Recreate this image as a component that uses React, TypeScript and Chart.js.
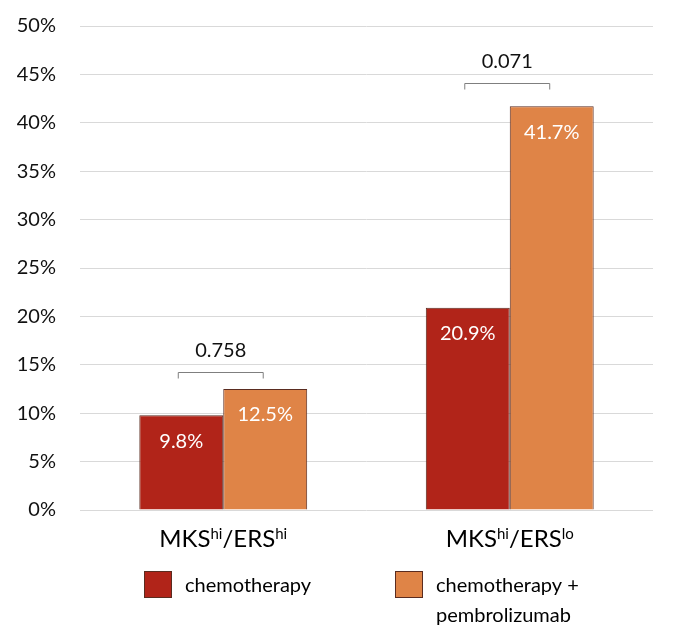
import React, { useEffect, useRef } from 'react';
import { Chart, registerables } from 'chart.js';
Chart.register(...registerables);

const categories = ['MKS^hi/ERS^hi', 'MKS^hi/ERS^lo'];
const seriesNames = ['chemotherapy', 'chemotherapy +\npembrolizumab'];
const chemo = [9.8, 20.9];
const chemoPembro = [12.5, 41.7];
const pValues = ['0.758', '0.071'];
const bracketLevels = [14.3, 44.1];
const yMin = 0;
const yMax = 50;
const yStep = 5;

const RED = '#B12419';
const ORANGE = '#DF8447';
const BORDER = '#5a2c20';
const FONT = 'Lato, "Open Sans", sans-serif';

function parseLabel(s: string) {
  const parts: { t: string; sup: boolean }[] = [];
  const re = /\^([a-z]+)/g;
  let last = 0;
  let m: RegExpExecArray | null;
  while ((m = re.exec(s))) {
    if (m.index > last) parts.push({ t: s.slice(last, m.index), sup: false });
    parts.push({ t: m[1], sup: true });
    last = m.index + m[0].length;
  }
  if (last < s.length) parts.push({ t: s.slice(last), sup: false });
  return parts;
}

const annotPlugin = {
  id: 'annot',
  afterDatasetsDraw(chart: any) {
    const ctx = chart.ctx as CanvasRenderingContext2D;
    const area = chart.chartArea;
    const yScale = chart.scales.y;
    const xScale = chart.scales.x;
    ctx.save();
    // value labels
    ctx.fillStyle = '#ffffff';
    ctx.font = `20px ${FONT}`;
    ctx.textAlign = 'center';
    ctx.textBaseline = 'middle';
    chart.data.datasets.forEach((ds: any, di: number) => {
      const meta = chart.getDatasetMeta(di);
      meta.data.forEach((el: any, i: number) => {
        ctx.fillText(ds.data[i].toFixed(1) + '%', el.x, el.y + 26);
      });
    });
    // brackets
    const m0 = chart.getDatasetMeta(0);
    const m1 = chart.getDatasetMeta(1);
    categories.forEach((_, i) => {
      const x1 = m0.data[i].x - 3;
      const x2 = m1.data[i].x - 2;
      const y = Math.round(yScale.getPixelForValue(bracketLevels[i])) + 0.5;
      ctx.strokeStyle = '#7f7f7f';
      ctx.lineWidth = 1;
      ctx.beginPath();
      ctx.moveTo(x1, y + 6);
      ctx.lineTo(x1, y);
      ctx.lineTo(x2, y);
      ctx.lineTo(x2, y + 6);
      ctx.stroke();
      ctx.fillStyle = '#111111';
      ctx.font = `20px ${FONT}`;
      ctx.textBaseline = 'middle';
      ctx.fillText(pValues[i], (x1 + x2) / 2, y - 22);
    });
    // x labels with superscripts
    categories.forEach((lab, i) => {
      const cx = xScale.getPixelForValue(i);
      const parts = parseLabel(lab);
      const baseFont = `24px ${FONT}`;
      const supFont = `15px ${FONT}`;
      let w = 0;
      parts.forEach((p) => {
        ctx.font = p.sup ? supFont : baseFont;
        w += ctx.measureText(p.t).width;
      });
      let x = cx - w / 2;
      const base = area.bottom + 37;
      ctx.textAlign = 'left';
      ctx.textBaseline = 'alphabetic';
      ctx.fillStyle = '#000000';
      parts.forEach((p) => {
        ctx.font = p.sup ? supFont : baseFont;
        ctx.fillText(p.t, x, p.sup ? base - 8 : base);
        x += ctx.measureText(p.t).width;
      });
    });
    // legend
    const colors = [RED, ORANGE];
    const boxX = [area.left + 64, area.left + 315];
    const boxY = area.bottom + 61;
    seriesNames.forEach((name, i) => {
      ctx.fillStyle = colors[i];
      ctx.fillRect(boxX[i], boxY, 28, 27);
      ctx.strokeStyle = BORDER;
      ctx.lineWidth = 1;
      ctx.strokeRect(boxX[i] + 0.5, boxY + 0.5, 27, 26);
      ctx.fillStyle = '#000000';
      ctx.font = `20px ${FONT}`;
      ctx.textAlign = 'left';
      ctx.textBaseline = 'middle';
      name.split('\n').forEach((line, li) => {
        ctx.fillText(line, boxX[i] + 41, boxY + 15 + li * 30);
      });
    });
    ctx.restore();
  },
};

export default function App() {
  const ref = useRef<HTMLCanvasElement | null>(null);
  useEffect(() => {
    document.body.style.margin = '0';
    if (!ref.current) return;
    const chart = new Chart(ref.current, {
      type: 'bar',
      data: {
        labels: categories,
        datasets: [
          {
            label: seriesNames[0],
            data: chemo,
            backgroundColor: RED,
            borderColor: BORDER,
            borderWidth: 1,
            barPercentage: 1,
            categoryPercentage: 0.586,
          },
          {
            label: seriesNames[1],
            data: chemoPembro,
            backgroundColor: ORANGE,
            borderColor: BORDER,
            borderWidth: 1,
            barPercentage: 1,
            categoryPercentage: 0.586,
          },
        ],
      },
      options: {
        animation: false,
        responsive: true,
        maintainAspectRatio: false,
        layout: { padding: { left: 0, right: 27, top: 26, bottom: 0 } },
        plugins: {
          legend: { display: false },
          tooltip: { enabled: false },
        },
        scales: {
          x: {
            grid: { display: false },
            border: { display: false },
            ticks: { display: false },
            afterFit: (s: any) => {
              s.height = 119;
            },
          },
          y: {
            min: yMin,
            max: yMax,
            ticks: {
              stepSize: yStep,
              padding: 24,
              color: '#111111',
              font: { family: FONT, size: 20 },
              callback: (v: any) => v + '%',
            },
            grid: { color: '#d9d9d9', lineWidth: 1, drawTicks: false },
            border: { display: false },
            afterFit: (s: any) => {
              s.width = 80;
              s.paddingTop = 0;
              s.paddingBottom = 0;
            },
          },
        },
      },
      plugins: [annotPlugin],
    });
    return () => chart.destroy();
  }, []);
  return (
    <div style={{ width: 680, height: 629, position: 'relative', overflow: 'hidden', background: '#fff' }}>
      <canvas ref={ref} />
    </div>
  );
}
